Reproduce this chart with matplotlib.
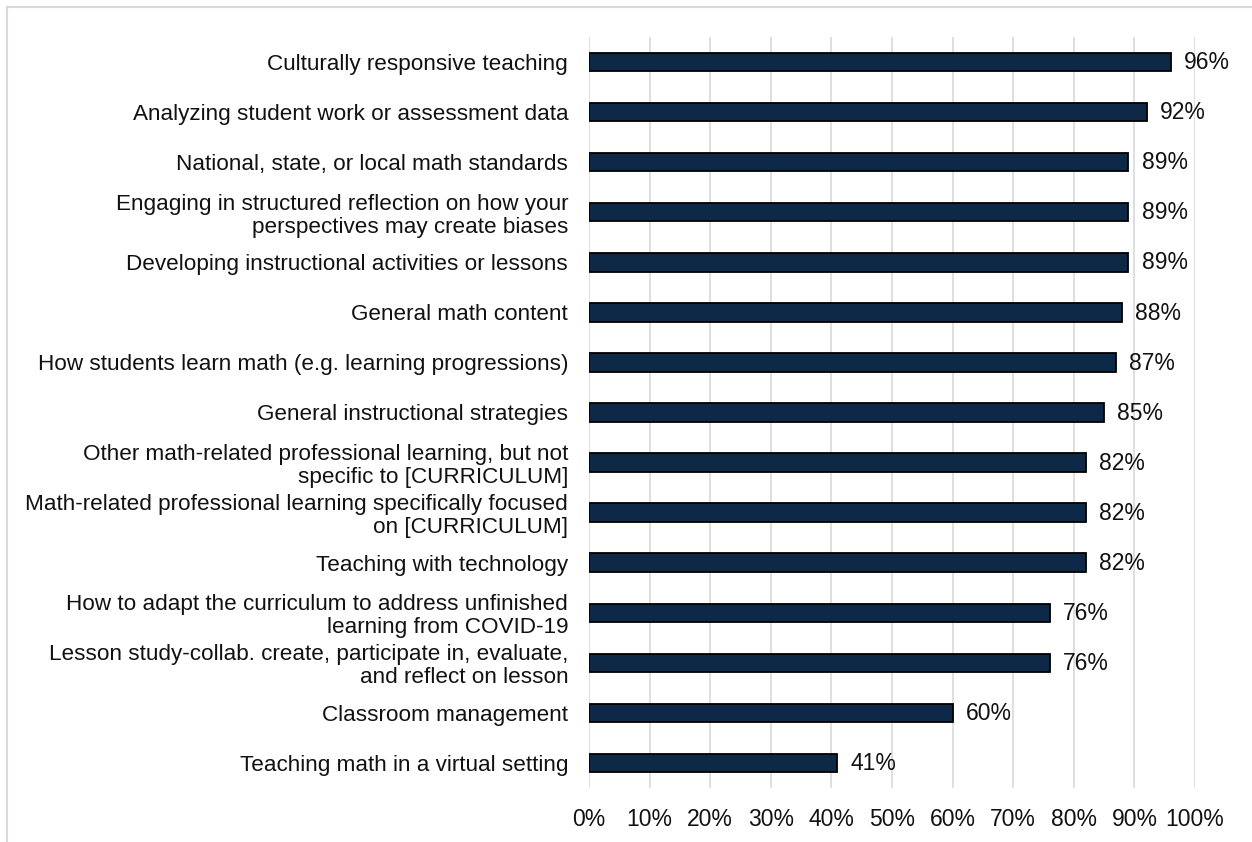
import matplotlib
matplotlib.use("Agg")
import matplotlib.pyplot as plt
from matplotlib.lines import Line2D

plt.rcParams['font.family'] = ['Liberation Sans', 'DejaVu Sans']

categories = [
    "Culturally responsive teaching",
    "Analyzing student work or assessment data",
    "National, state, or local math standards",
    "Engaging in structured reflection on how your\nperspectives may create biases",
    "Developing instructional activities or lessons",
    "General math content",
    "How students learn math (e.g. learning progressions)",
    "General instructional strategies",
    "Other math-related professional learning, but not\nspecific to [CURRICULUM]",
    "Math-related professional learning specifically focused\non [CURRICULUM]",
    "Teaching with technology",
    "How to adapt the curriculum to address unfinished\nlearning from COVID-19",
    "Lesson study-collab. create, participate in, evaluate,\nand reflect on lesson",
    "Classroom management",
    "Teaching math in a virtual setting",
]
values = [96, 92, 89, 89, 89, 88, 87, 85, 82, 82, 82, 76, 76, 60, 41]
xticks = [0, 10, 20, 30, 40, 50, 60, 70, 80, 90, 100]
xtick_labels = [f"{t}%" for t in xticks]

W, H = 1252, 842
fig = plt.figure(figsize=(W / 100, H / 100), dpi=100)
ax = fig.add_axes([589 / W, 1 - 788 / H, (1195 - 589) / W, (788 - 37) / H])

ypos = list(range(len(categories)))
ax.barh(ypos, values, height=0.37, color="#0e2848", edgecolor="black",
        linewidth=1.3, zorder=3)

for y, v in zip(ypos, values):
    ax.annotate(f"{v}%", xy=(v, y), xytext=(9.5, -0.5), textcoords="offset points",
                ha="left", va="center", fontsize=16.5, color="#111111")

ax.set_xlim(0, 100)
ax.set_ylim(len(categories) - 0.5, -0.5)
ax.set_xticks(xticks)
ax.set_xticklabels(xtick_labels, fontsize=16.5, color="#111111")
ax.set_yticks(ypos)
ax.set_yticklabels(categories, fontsize=16.2, color="#111111", linespacing=1.12)
ax.tick_params(axis="both", length=0)
ax.tick_params(axis="y", pad=15)
ax.tick_params(axis="x", pad=14.5)
ax.grid(axis="x", color="#d9d9d9", linewidth=1.2, zorder=0)
for s in ax.spines.values():
    s.set_visible(False)

# outer frame (top and left edges)
fig.add_artist(Line2D([7 / W, 1.0], [1 - 7 / H, 1 - 7 / H], color="#d9d9d9",
                      linewidth=1.5, transform=fig.transFigure))
fig.add_artist(Line2D([7 / W, 7 / W], [0.0, 1 - 7 / H], color="#d9d9d9",
                      linewidth=1.5, transform=fig.transFigure))

fig.savefig("out.png", dpi=100, facecolor="white")
